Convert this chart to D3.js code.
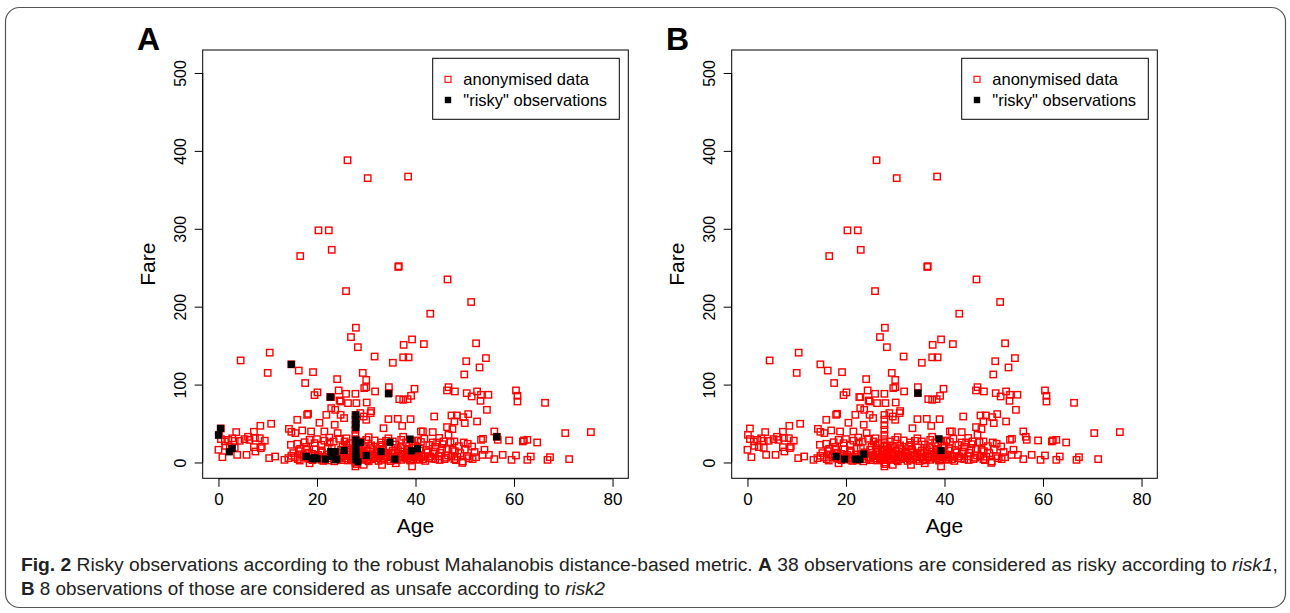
<!DOCTYPE html>
<html><head><meta charset="utf-8">
<script src="https://cdn.jsdelivr.net/npm/d3@7"></script>
<style>body{margin:0;background:#fff}svg{display:block}text{font-family:"Liberation Sans",Arial,sans-serif}</style>
</head><body>
<svg id="c" width="1290" height="613"></svg>
<script>
// ---------- data (Age, Fare) ----------
const xTicks = [0, 20, 40, 60, 80];
const yTicks = [0, 100, 200, 300, 400, 500];
const legendLabels = ["anonymised data", "\"risky\" observations"];
const panelLabels = ["A", "B"];

const anonymisedPoints = [
 [26.2,388],[30.3,365],[38.5,367],[20.3,298],[22.4,298],[16.6,265],[23.0,273],[36.5,251],[46.5,235],[25.9,220],
 [51.3,206],[43,191],[27.9,173],[26.9,161],[28.3,148],[39.3,158],[37.6,151],[41.7,152],[52.3,153],[37.5,135],
 [38.6,135],[54.3,134],[50.3,130],[35.4,128],[31.7,136],[4.5,131],[10.4,141],[16.3,118],[10,115],[19.2,116],
 [17.6,102],[24.1,107],[29.3,115],[30,106],[49.9,113],[53,122],[14.8,126],[36.6,252],
 [20.1,90],[19.5,86.5],[22.9,84],[24.4,92.5],[24.6,79.6],[24.8,78.3],[25.9,88.2],[26.3,76.2],[27.8,88.2],[28,76.2],
 [29.6,95.5],[30,96.7],[30.1,77],[31.8,91.2],[34.6,96.7],[34.6,89],[36.7,81.3],[37.5,80.5],[38.4,81.3],[39.1,85.6],
 [39.8,94.6],[46.4,92.5],[46.7,96.7],[48,91.2],[50.4,89],[51.4,84.8],[52.5,91.2],[53.2,79.2],[53.3,86.9],[54.8,86.9],
 [60.4,92.5],[60.7,85.6],[60.7,78.3],[66.3,76.6],[22.7,84],
 [10.7,49.7],[8.5,47.1],[7.2,39.4],[3.6,39],[0.5,43.7],[0.1,35.5],[16,54.8],[18,61.2],[18.2,62.5],[21.9,61.2],
 [22.9,69.8],[23.7,67.6],[24.8,61.2],[23.6,48.4],[14.3,43.2],[14.8,39.4],[15.6,37.7],[17,41.1],[18.8,39.8],[21.5,39.8],
 [24.2,37.7],[27.8,61],[27.8,55],[27.8,48],[27.8,42],[27.8,35.5],[28.8,63.4],[29.5,59],[30.9,63.4],[30,54.8],
 [34.5,55.6],[36.4,56],[37.3,47],[39,55.6],[41.1,39.8],[54.5,67.6],[43.8,59],[47.3,60.4],[48.4,60.4],[49.7,58.2],
 [50.7,62.1],[50,50.5],[52.5,52.7],[47.9,52.7],[41.5,39.8],[43.5,39],[46.4,45.4],[47.5,42.8],[46.7,35.5],[56,39.8],
 [70.4,37.7],[75.6,39],[56.5,33],[33.5,44],[31,66],[25.5,57],[20.5,51],
 [1.3,27],[2,29],[2.8,31],[3.3,27.8],[4.3,27.8],[5.3,30],[6.3,29],[7.4,31.7],[8.4,31.2],[9.4,28],[0.5,30],[6,33],
 [19.5,24.8],[20.9,22.7],[22.6,25.7],[23.4,27],[14.7,22.7],
 [25.6,27],[26.6,24.8],[29,27],[30,29.1],[31.7,28.3],[33,25.7],[34,27.8],[35.4,27],[37.1,29.1],[38.1,25.7],[39.4,27],[40.4,28.3],
 [41.1,26.5],[43.5,25.7],[44.4,25.7],[45.7,27],[47.1,26.1],[47.9,27],[49.8,25.7],[50.6,24],[53.3,29.1],[53.7,30.4],
 [56.7,29.1],[59,28.3],[62,28.3],[62.7,29.1],[64.7,25.7],[61.8,27],
 [0,16.3],[1.4,21.4],[2.3,19.7],[3.3,18.8],[7.2,19.7],[8.6,18.4],[3.8,9.8],[5.7,9.8],[7.5,14.1],[8.8,20.5],[16.6,17.6],[18,16.3],
 [24.9,16.3],[26.3,18.4],[27.3,14.1],[28.3,16.3],[29.3,12.8],[30.3,15.4],[31.3,17.1],[32.3,14.1],[33.4,16.3],[34.4,12.8],
 [35.4,15.4],[36.4,17.1],[37.4,14.1],[38.4,16.3],[39.8,12.8],[40.8,15.4],
 [39.1,15],[46.4,17.1],[47.5,16.3],[49.1,12],[54,16.3],[54.9,9.8],[44,20],[42.5,13],[21,13],[19,11],[23,19],
 [0.8,6.8],[10.3,5.6],[11.5,7.7],[13.4,3.4],[14.2,5.6],[14.8,8.6],
 [16.1,4.3],[17.2,6.8],[18.8,4.3],[20.9,3.4],[22.6,5.6],[24.2,4.3],[24.9,6.8],[26.3,2.6],[27.3,5.6],[28.3,8.6],
 [29,3.4],[30,6.8],[31,4.3],[32,5.6],[33,3.4],[34.4,6.8],[35.7,4.3],[37.1,3.4],[38.4,5.6],[39.8,6.8],[40.8,3.4],
 [39.1,4.3],[40.4,4.3],[41.5,4.3],[42.8,5.6],[44,4.3],[45.9,4.3],[47.9,4.3],[49.6,1.3],[51.6,4.3],[52.3,6.8],
 [53.6,9.8],[56,4.3],[57.7,9.8],[59.5,3.4],[60.4,9],[62.7,3.4],[63.4,7.7],[66.8,3.4],[67.3,6.8],[71.2,4.3],
 [27.8,-5],[29.5,-3],[33.2,-3],[39.3,-5],[28,-2],[18.5,-1],[36,-1],[49.5,-0.5],
 [27.8,30],[27.8,25],[27.8,20],[27.8,15],[27.8,10],[27.8,5],[27.8,0],[28.3,22],[28.3,12],[28.3,3],[28.1,8],[28.6,17],
 [17.7,7.9],[19.5,8.2],[21.7,7.5],[23.3,7.8],[25.4,8],[26.8,7.9],[29.6,7.8],[30.6,8.1],[31.6,7.8],[32.6,7.9],
 [34,8.1],[35,7.8],[36.6,7.9],[38,7.8],[39.5,8],[42,7.8],[43,7.9],[44.7,8],[46.6,9],[48.5,7.5],[50.5,8],
 [16.8,10.5],[18.3,12.6],[20.2,9.8],[22,10.2],[24,11.5],[25.5,9.5],[26.5,12],[29.8,10.5],[32.2,11],[33.8,9.6],
 [35.3,10.8],[37.8,9.9],[40.2,10.5],[41.2,8.5],[43.6,11],[45,12.5],[21.3,2],[23.5,1.5],[25,3],[30.5,1.5],[32.5,2],
 [34.9,1.8],[36.8,6],[38.9,2.5],[42,2],[19.8,6],[15.2,12],[16,24],[17.5,26],[18.5,29],[20,30],[21.5,28],[24.5,30.5],
 [26,22],[29.3,21.5],[31,22],[32.8,20.5],[36,23],[38.7,21],[40,21.5],[42.8,22.5],[45.5,23.5],[48.8,21],[51.5,20.5],
 [15.5,6.5],[16.5,2.5],[17.3,9.5],[18.2,5],[19.1,3],[20.5,7],[21.2,5.2],[22.3,2.8],[23,9],[24.6,6],[25.8,5],[26.9,4],
 [27.5,7],[28.7,5],[29.4,9.5],[30.2,3],[31.4,6.2],[32.3,8.8],[33.6,5.4],[34.3,3.6],[35.2,6.6],[36.2,2.8],[37.4,7],
 [38.2,4.8],[39.4,9.4],[40.6,6.4],[41.7,7.2],[43.3,5],[44.9,3.2],[46.2,6.2],[47.3,8],[48.2,3],[50.8,5.5],
 [16.3,14.5],[17.8,20],[19.7,17],[20.8,15.5],[22.2,18.2],[23.8,13],[25.2,20.5],[26.2,14.6],[28.9,19],[30.8,18.5],
 [32,12],[33.2,22.5],[34.6,19.2],[35.8,12.5],[37,19.5],[38.3,12],[39.6,18.8],[41,18],[42.2,16],[43.9,14.2],[45.4,16.8],
 [48,14.5],[50,16.5],[52,13.5],[22.5,32],[26,31],[30.5,32.5],[34.5,31],[37.5,33],[41.8,30.5],[44.8,31.5]
];

const riskyPointsA = [
 [0.4,43.7],[0,35.2],[2.2,13.7],[2.8,18],[14.8,125.9],[22.7,84],[34.5,88.2],[17.8,7.7],[19.3,4.8],[20,4.8],
 [21.7,4.3],[22.8,14],[23.7,14],[23.7,3.5],[25.5,15.4],[27.9,61],[27.9,55],[27.9,50.5],[27.9,29],[28.8,25.8],
 [27.9,8],[27.9,3.5],[30,9],[33,14],[34.8,26],[35.8,4.3],[38.9,30],[39.2,15],[40.4,17.6],[56.5,33],
 [27.9,12],[28.3,1],[19.6,6],[23,8],[27.9,20],[27.9,45],[24,4.5],[19,5.5]
];

const riskyPointsB = [
 [34.6,89],[18,7.7],[19.7,4.3],[21.9,4.3],[23.6,10.8],[38.9,30.4],[39.3,15.4],[22.8,4.0]
];

// ---------- layout ----------
const svg = d3.select("#c");
const panelOffset = [0, 529];
const box = {left: 202.7, right: 628.3, top: 50, bottom: 478.3};

// outer frame
svg.append("rect").attr("x", 5.5).attr("y", 7.5).attr("width", 1280).attr("height", 600)
  .attr("rx", 14).attr("fill", "none").attr("stroke", "#555").attr("stroke-width", 1.2);

const riskySets = [riskyPointsA, riskyPointsB];

panelOffset.forEach((dx, pi) => {
  const g = svg.append("g").attr("transform", `translate(${dx},0)`);
  const x = d3.scaleLinear().domain([-3.2, 83.2]).range([box.left, box.right]);
  const y = d3.scaleLinear().domain([-20.3, 529.5]).range([box.bottom, box.top]);

  // panel letter
  g.append("text").attr("x", 137).attr("y", 50).attr("font-size", 32).attr("font-weight", "bold")
    .text(panelLabels[pi]);

  // points
  const s = 6.4;
  g.append("g").selectAll("rect").data(anonymisedPoints).join("rect")
    .attr("x", d => x(d[0]) - s/2).attr("y", d => y(d[1]) - s/2)
    .attr("width", s).attr("height", s)
    .attr("fill", "none").attr("stroke", "#ff0000").attr("stroke-width", 1.4);
  const b = 7.2;
  g.append("g").selectAll("rect").data(riskySets[pi]).join("rect")
    .attr("x", d => x(d[0]) - b/2).attr("y", d => y(d[1]) - b/2)
    .attr("width", b).attr("height", b).attr("fill", "#000");

  // box
  g.append("rect").attr("x", box.left).attr("y", box.top)
    .attr("width", box.right - box.left).attr("height", box.bottom - box.top)
    .attr("fill", "none").attr("stroke", "#000").attr("stroke-width", 1);

  // x axis
  const xa = g.append("g").attr("transform", `translate(0,${box.bottom + 0.5})`)
    .call(d3.axisBottom(x).tickValues(xTicks).tickSize(8).tickSizeOuter(0).tickPadding(6));
  xa.select(".domain").attr("d", `M${x(0)},0H${x(80)}`).attr("stroke", "#000");
  xa.selectAll("text").attr("font-size", 17).attr("font-family", "Liberation Sans, Arial, sans-serif").attr("fill", "#000");
  xa.selectAll("line").attr("stroke", "#000");

  // y axis
  const ya = g.append("g").attr("transform", `translate(${box.left},0)`)
    .call(d3.axisLeft(y).tickValues(yTicks).tickSize(8).tickSizeOuter(0).tickPadding(0));
  ya.select(".domain").attr("d", `M0,${y(0)}V${y(500)}`).attr("stroke", "#000");
  ya.selectAll("line").attr("stroke", "#000");
  ya.selectAll("text").attr("font-size", 16).attr("font-family", "Liberation Sans, Arial, sans-serif").attr("fill", "#000")
    .attr("x", null).attr("dy", null)
    .attr("text-anchor", "middle")
    .attr("transform", "translate(-17,0) rotate(-90)");

  // axis titles
  g.append("text").attr("x", (box.left + box.right) / 2).attr("y", 533).attr("text-anchor", "middle")
    .attr("font-size", 21).text("Age");
  g.append("text").attr("transform", `translate(155,${(box.top + box.bottom) / 2}) rotate(-90)`)
    .attr("text-anchor", "middle").attr("font-size", 21).text("Fare");

  // legend
  const lg = g.append("g");
  lg.append("rect").attr("x", 432.7).attr("y", 58.3).attr("width", 186.6).attr("height", 61)
    .attr("fill", "#fff").attr("stroke", "#000").attr("stroke-width", 1);
  lg.append("rect").attr("x", 445).attr("y", 76.3).attr("width", 6).attr("height", 6)
    .attr("fill", "none").attr("stroke", "#ff0000").attr("stroke-width", 1.1);
  lg.append("rect").attr("x", 444.8).attr("y", 96.8).attr("width", 6.4).attr("height", 6.4).attr("fill", "#000");
  lg.append("text").attr("x", 463.3).attr("y", 85).attr("font-size", 16.5).text(legendLabels[0]);
  lg.append("text").attr("x", 463.3).attr("y", 106).attr("font-size", 16.5).text(legendLabels[1]);
});

// caption (condensed look: larger size squeezed to measured width)
const cap1 = svg.append("text").attr("x", 21).attr("y", 571).attr("font-size", 18)
  .attr("font-family", "Liberation Sans Narrow, Liberation Sans, sans-serif").attr("fill", "#222")
  .attr("textLength", 1257).attr("lengthAdjust", "spacingAndGlyphs");
cap1.append("tspan").attr("font-weight", "bold").text("Fig. 2");
cap1.append("tspan").text("  Risky observations according to the robust Mahalanobis distance-based metric. ");
cap1.append("tspan").attr("font-weight", "bold").text("A");
cap1.append("tspan").text(" 38 observations are considered as risky according to ");
cap1.append("tspan").attr("font-style", "italic").text("risk1");
cap1.append("tspan").text(",");

const cap2 = svg.append("text").attr("x", 21).attr("y", 595).attr("font-size", 18)
  .attr("font-family", "Liberation Sans Narrow, Liberation Sans, sans-serif").attr("fill", "#222")
  .attr("textLength", 584).attr("lengthAdjust", "spacingAndGlyphs");
cap2.append("tspan").attr("font-weight", "bold").text("B");
cap2.append("tspan").text(" 8 observations of those are considered as unsafe according to ");
cap2.append("tspan").attr("font-style", "italic").text("risk2");
</script>
</body></html>
